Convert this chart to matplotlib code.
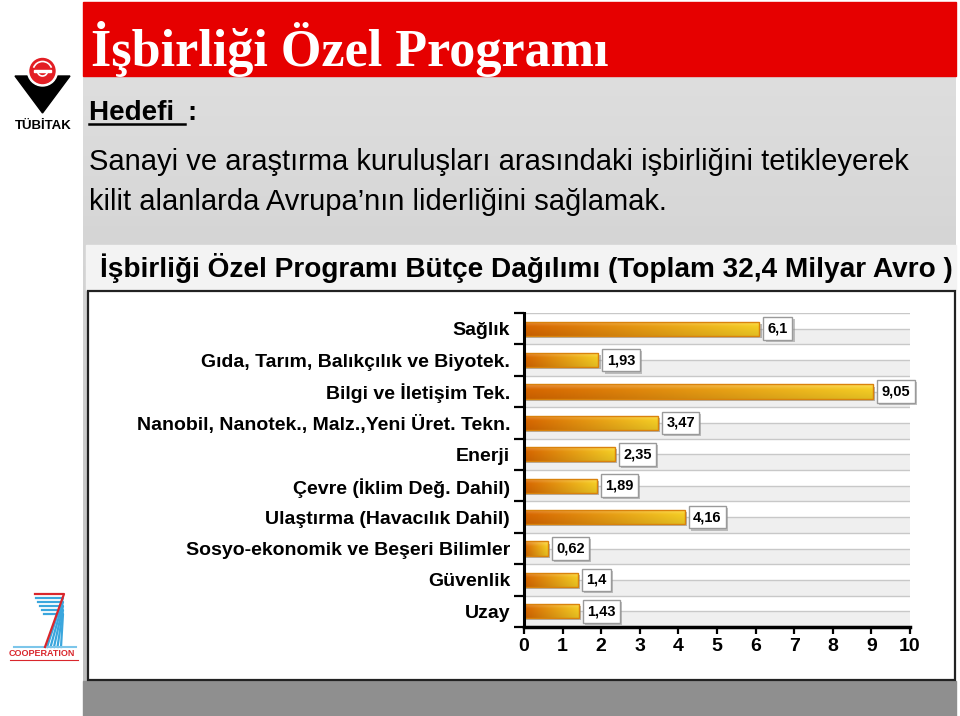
import matplotlib
matplotlib.use('Agg')
import matplotlib.pyplot as plt
import matplotlib.patheffects as pe
import numpy as np
from matplotlib.patches import Rectangle, Polygon, Circle, Arc
from matplotlib.colors import to_rgb

# data
categories = ['Sağlık', 'Gıda, Tarım, Balıkçılık ve Biyotek.', 'Bilgi ve İletişim Tek.',
              'Nanobil, Nanotek., Malz.,Yeni Üret. Tekn.', 'Enerji', 'Çevre (İklim Değ. Dahil)',
              'Ulaştırma (Havacılık Dahil)', 'Sosyo-ekonomik ve Beşeri Bilimler', 'Güvenlik', 'Uzay']
values = [6.1, 1.93, 9.05, 3.47, 2.35, 1.89, 4.16, 0.62, 1.4, 1.43]
xticks = list(range(0, 11))

slide_title = 'İşbirliği Özel Programı'
goal_head = 'Hedefi '
goal_lines = ['Sanayi ve araştırma kuruluşları arasındaki işbirliğini tetikleyerek',
              'kilit alanlarda Avrupa’nın liderliğini sağlamak.']
chart_title = 'İşbirliği Özel Programı Bütçe Dağılımı (Toplam 32,4 Milyar Avro )'

plt.rcParams['font.family'] = ['Liberation Sans', 'DejaVu Sans']

fig = plt.figure(figsize=(9.6, 7.16), dpi=100)

# background layer in pixel coordinates
bg = fig.add_axes([0, 0, 1, 1])
bg.set_xlim(0, 960)
bg.set_ylim(716, 0)
bg.axis('off')

# grey slide area
grey = np.linspace(0.87, 0.74, 64)[:, None, None] * np.ones((64, 2, 3))
bg.imshow(grey, extent=(83, 956, 716, 76), aspect='auto', zorder=0)
bg.add_patch(Rectangle((83, 681), 873, 35, color='#8f8f8f', zorder=1))

# red header
bg.add_patch(Rectangle((83, 2), 873, 74, color='#e60000', zorder=1))
bg.text(91, 66, slide_title, family='Liberation Serif', fontsize=37.5, fontweight='bold',
        color='white', va='baseline', ha='left', zorder=2)

# goal text
bg.text(89, 120, goal_head, fontsize=20, fontweight='bold', va='baseline', zorder=2)
bg.text(187, 120, ':', fontsize=20, fontweight='bold', va='baseline', zorder=2)
bg.plot([89, 185], [123.5, 123.5], color='black', lw=1.8, zorder=2)
bg.text(89, 170, goal_lines[0], fontsize=21, va='baseline', zorder=2)
bg.text(89, 210, goal_lines[1], fontsize=21, va='baseline', zorder=2)

# chart panel
bg.add_patch(Rectangle((86, 245), 870, 45, color='#f3f3f3', zorder=1))
bg.text(100, 277, chart_title, fontsize=20.2, fontweight='bold', va='baseline', zorder=2)
bg.add_patch(Rectangle((87.5, 290.5), 867, 389, facecolor='white',
                       edgecolor='#222222', lw=1.6, zorder=1))

# TUBITAK logo
bg.add_patch(Polygon([[15, 76], [70, 76], [42.5, 113]], color='black', zorder=2))
bg.add_patch(Circle((42.5, 71), 15, color='white', zorder=3))
bg.add_patch(Circle((42.5, 71), 12.5, color='#e31e24', zorder=4))
bg.add_patch(Arc((42.5, 71), 19, 19, theta1=200, theta2=340, color='white', lw=1.2, zorder=5))
bg.add_patch(Arc((42.5, 71), 10, 10, theta1=20, theta2=160, color='white', lw=1.2, zorder=5))
bg.add_patch(Rectangle((34, 69.5), 17, 2.5, color='white', zorder=5))
bg.text(43, 126, 'TÜBİTAK', fontsize=9.5, fontweight='bold', ha='center', va='center', zorder=2)

# FP7 cooperation logo (drawn as stripes)
bg.plot([35, 64, 45], [594, 594, 647], color='#d9262c', lw=1.6, zorder=3)
for i in range(5):
    yy = 598 + i * 4
    bg.plot([36 + i * 2, 63, 47 + i * 3.5], [yy, yy, 647], color='#3aa6dd', lw=1.6, zorder=2)
bg.plot([14, 76], [647, 647], color='#7cc6ea', lw=1.5, zorder=2)
bg.text(42, 654, 'COOPERATION', fontsize=6.5, color='#d9262c', ha='center', va='center',
        fontweight='bold', zorder=2)
bg.plot([10, 78], [660, 660], color='#d9262c', lw=0.8, zorder=2)

# chart axes
ax = fig.add_axes([524 / 960, 1 - 627 / 716, 386 / 960, 314 / 716])
ax.set_facecolor('none')
y = np.arange(len(categories))

for k in y:
    ax.axhspan(k, k + 0.5, color='#efefef', zorder=0, lw=0)
for g in np.arange(-0.5, len(categories), 0.5):
    ax.axhline(g, color='#c8c8c8', lw=1, zorder=1)

# shadow under bars
shadows = ax.barh(y, values, height=0.45, facecolor='none', edgecolor='none', zorder=2)
for s in shadows:
    s.set_path_effects([pe.SimplePatchShadow(offset=(1.5, -1.5), shadow_rgbFace='#8a8a8a', alpha=0.6)])

bars = ax.barh(y, values, height=0.45, facecolor='none', edgecolor='#d9820c', lw=1, zorder=4)

c0 = np.array(to_rgb('#e06a00'))
c1 = np.array(to_rgb('#ffd626'))
tx = np.linspace(0, 1, 128)[None, :, None]
ty = np.linspace(0, 1, 16)[:, None, None]
grad = c0 * (1 - tx) + c1 * tx
grad = grad * (1.0 - 0.12 * ty) + 0.25 * np.clip(1 - ty / 0.35, 0, 1) * (1 - grad)
grad = np.clip(grad, 0, 1)

for b in bars:
    x0, y0, w, h = b.get_x(), b.get_y(), b.get_width(), b.get_height()
    im = ax.imshow(grad, extent=(x0, x0 + w, y0 + h, y0), aspect='auto', zorder=3,
                   interpolation='bilinear')
    im.set_clip_path(b)

for k, v in zip(y, values):
    lab = f'{v:g}'.replace('.', ',')
    t = ax.annotate(lab, xy=(v, k), xytext=(6, 0), textcoords='offset points',
                    ha='left', va='center', fontsize=10.5, fontweight='bold', zorder=6,
                    bbox=dict(boxstyle='square,pad=0.3', fc='white', ec='#9a9a9a', lw=1))
    t.get_bbox_patch().set_path_effects([pe.SimplePatchShadow(offset=(1.5, -1.5),
                                                              shadow_rgbFace='#888888', alpha=0.5),
                                         pe.Normal()])

ax.set_xlim(0, 10)
ax.set_ylim(len(categories) - 0.5, -0.5)

ax.set_yticks(np.arange(-0.5, len(categories), 1))
ax.set_yticklabels([])
ax.set_yticks(y, minor=True)
ax.set_yticklabels(categories, minor=True, fontsize=14, fontweight='bold')
ax.tick_params(axis='y', which='major', length=7, width=1.6, color='black')
ax.tick_params(axis='y', which='minor', length=0, pad=10)

ax.set_xticks(xticks)
ax.set_xticklabels([str(v) for v in xticks], fontsize=14, fontweight='bold')
ax.tick_params(axis='x', length=5, width=1.6, pad=3)

for s in ['top', 'right']:
    ax.spines[s].set_visible(False)
ax.spines['left'].set_linewidth(2.2)
ax.spines['bottom'].set_linewidth(2.5)
ax.spines['left'].set_zorder(7)
ax.spines['bottom'].set_zorder(7)

fig.savefig('out.png', dpi=100)
